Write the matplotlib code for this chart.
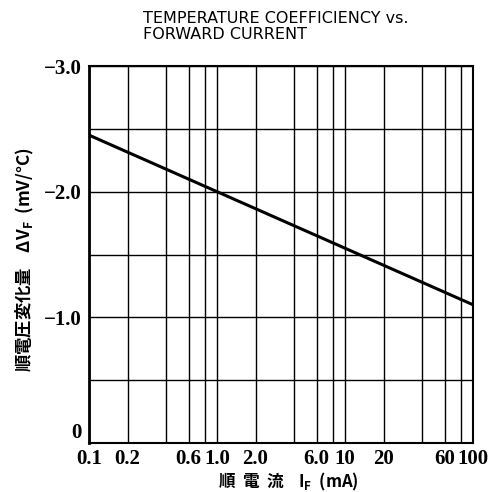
import matplotlib
matplotlib.use("Agg")
import matplotlib.pyplot as plt

current_ma = [0.1, 1.0, 10.0, 100.0]
delta_vf = [-2.45, -2.0, -1.55, -1.1]

x_grid = [0.1, 0.2, 0.4, 0.6, 0.8, 1, 2, 4, 6, 8, 10, 20, 40, 60, 80, 100]
x_ticks = [0.1, 0.2, 0.6, 1.0, 2.0, 6.0, 10, 20, 60, 100]
x_labels = ["0.1", "0.2", "0.6", "1.0", "2.0", "6.0", "10", "20", "60", "100"]
y_grid = [0, -0.5, -1.0, -1.5, -2.0, -2.5, -3.0]
y_ticks = [0, -1.0, -2.0, -3.0]
y_labels = ["0", "\u22121.0", "\u22122.0", "\u22123.0"]

cjk = ["Noto Sans CJK JP", "DejaVu Sans"]
serif = {"family": ["Liberation Serif", "DejaVu Serif"], "weight": "bold", "size": 15}

fig = plt.figure(figsize=(4.89, 4.92), dpi=100)
ax = fig.add_axes([89 / 489, 1 - 443 / 492, (473 - 89) / 489, (443 - 66) / 492])

ax.set_xscale("log")
ax.set_xlim(0.1, 100)
ax.set_ylim(0, -3.0)

for xv in x_grid:
    ax.axvline(xv, color="black", lw=1.0, zorder=1)
for yv in y_grid:
    ax.axhline(yv, color="black", lw=1.0, zorder=1)

ax.plot(current_ma, delta_vf, color="black", lw=2.2, zorder=3)

ax.set_xticks(x_ticks)
ax.set_xticklabels(x_labels, fontdict=serif)
ax.xaxis.set_minor_locator(matplotlib.ticker.NullLocator())
ax.set_yticks(y_ticks)
ax.set_yticklabels(y_labels, fontdict=serif)
ax.tick_params(axis="x", length=0, pad=4)
ax.tick_params(axis="y", length=0, pad=5)
# the "0" sits a little above the corner in the reference
ax.get_yticklabels()[0].set_verticalalignment("bottom")

for s in ax.spines.values():
    s.set_linewidth(1.5)
ax.spines["left"].set_linewidth(2.0)

fig.text(288 / 489, 1 - 482 / 492, "順  電  流    I$_\\mathregular{F}$  (mA)", family=cjk,
         weight="bold", fontsize=12, ha="center", va="center")
fig.text(25 / 489, 1 - 260 / 492, "順電圧変化量    ΔV$_\\mathregular{F}$  (mV/°C)", family=cjk,
         weight="bold", fontsize=12.5, ha="center", va="center", rotation=90)

fig.text(143 / 489, 1 - 11 / 492, "TEMPERATURE COEFFICIENCY vs.\nFORWARD CURRENT",
         family="DejaVu Sans", fontsize=11.5, ha="left", va="top", linespacing=1.05)

fig.savefig("out.png", dpi=100)
